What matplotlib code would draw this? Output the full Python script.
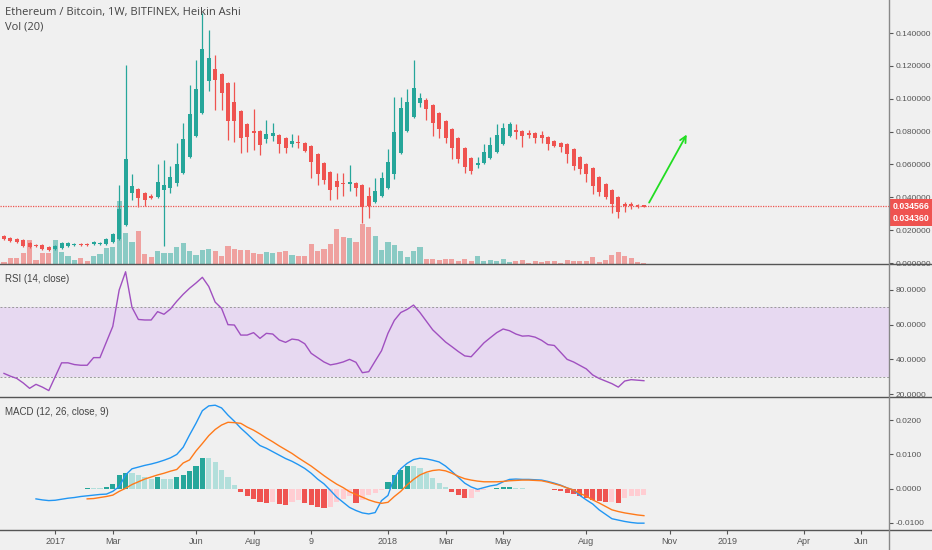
import numpy as np
import matplotlib
matplotlib.use('Agg')
import matplotlib.pyplot as plt
import matplotlib.transforms as mtransforms
from matplotlib.lines import Line2D

plt.rcParams['font.family'] = ['Liberation Sans', 'DejaVu Sans']

# weekly Heikin Ashi candles ETH/BTC, first bar = week of 2016-11-07
start_week = '2016-11-07'

opens = [.0164, .0152, .0146, .0140, .0122, .0110, .0110, .0097, .0085, .0091,
         .0103, .0110, .0116, .0116, .0116, .0116, .0116, .0128, .0146, .0231,
         .0426, .0450, .0426, .0408, .0402, .0444, .0456, .0487, .0548, .0645,
         .0773, .0913, .1108, .1181, .1150, .1095, .0980, .0925, .0846, .0803,
         .0803, .0755, .0773, .0779, .0761, .0724, .0736, .0730, .0712, .0663,
         .0609, .0554, .0499, .0487, .0481, .0487, .0475, .0408, .0371, .0408,
         .0456, .0542, .0669, .0803, .0889, .0974, .0992, .0962, .0913, .0864,
         .0816, .0761, .0700, .0639, .0596, .0609, .0639, .0676, .0724, .0773,
         .0809, .0803, .0791, .0791, .0779, .0767, .0743, .0730, .0724, .0694,
         .0645, .0603, .0578, .0523, .0481, .0444, .0402, .0359, .0359, .0353,
         .0353]
highs = [.0170, .0158, .0152, .0146, .0128, .0116, .0116, .0103, .0110, .0128,
         .0128, .0122, .0122, .0122, .0134, .0128, .0152, .0183, .0475, .1205,
         .0542, .0456, .0432, .0420, .0603, .0627, .0590, .0730, .0852, .1083,
         .1235, .1522, .1418, .1266, .1156, .1102, .1102, .0931, .0852, .0937,
         .0809, .0870, .0852, .0785, .0767, .0785, .0779, .0736, .0718, .0669,
         .0615, .0560, .0548, .0548, .0596, .0493, .0481, .0463, .0517, .0554,
         .0694, .1010, .1010, .1059, .1235, .1035, .1004, .0968, .0919, .0870,
         .0822, .0767, .0706, .0645, .0645, .0724, .0767, .0846, .0852, .0858,
         .0846, .0809, .0809, .0797, .0803, .0773, .0749, .0736, .0730, .0700,
         .0651, .0609, .0584, .0529, .0487, .0450, .0408, .0371, .0371, .0359,
         .0353]
lows = [.0140, .0128, .0122, .0097, .0091, .0097, .0079, .0073, .0079, .0085,
        .0097, .0103, .0103, .0103, .0110, .0110, .0110, .0122, .0140, .0225,
        .0383, .0341, .0347, .0390, .0396, .0103, .0426, .0469, .0542, .0639,
        .0767, .0907, .1047, .0931, .0931, .0749, .0736, .0669, .0676, .0688,
        .0657, .0730, .0743, .0669, .0669, .0706, .0700, .0676, .0517, .0475,
        .0481, .0383, .0390, .0408, .0438, .0408, .0243, .0274, .0365, .0402,
        .0450, .0511, .0663, .0797, .0882, .0949, .0870, .0773, .0761, .0730,
        .0633, .0609, .0548, .0542, .0578, .0603, .0633, .0669, .0718, .0767,
        .0755, .0706, .0761, .0730, .0730, .0688, .0706, .0676, .0609, .0566,
        .0542, .0493, .0420, .0408, .0390, .0304, .0274, .0310, .0329, .0335,
        .0341]
closes = [.0146, .0134, .0128, .0103, .0097, .0103, .0085, .0079, .0103, .0122,
          .0122, .0116, .0110, .0110, .0128, .0122, .0146, .0176, .0329, .0633,
          .0469, .0396, .0383, .0396, .0493, .0475, .0523, .0603, .0755, .0907,
          .1059, .1302, .1248, .1114, .1035, .0864, .0864, .0761, .0767, .0791,
          .0718, .0785, .0791, .0724, .0700, .0743, .0730, .0682, .0615, .0542,
          .0505, .0444, .0463, .0481, .0493, .0456, .0341, .0347, .0438, .0517,
          .0615, .0797, .0943, .0980, .1065, .1004, .0937, .0852, .0816, .0761,
          .0700, .0633, .0584, .0560, .0609, .0676, .0718, .0779, .0822, .0846,
          .0797, .0773, .0779, .0761, .0761, .0724, .0712, .0706, .0663, .0590,
          .0572, .0542, .0469, .0432, .0402, .0359, .0310, .0347, .0347, .0341,
          .0341]
# volume, arbitrary units
volume = [1.7, 5.7, 5.7, 10.7, 24, 4, 10.7, 10.7, 24, 11.7,
          8.3, 4, 6, 3.3, 8.3, 10, 16, 16.7, 63, 30.7,
          21.7, 32.7, 10, 6.7, 12.7, 11, 11, 16.7, 20.7, 13.3,
          9, 14, 15, 13.3, 8.3, 18.3, 15, 14, 14, 11,
          10, 11.7, 10.7, 11.7, 12.7, 9.3, 7.7, 7.7, 20, 13.3,
          15, 20, 35, 27.3, 26, 21.7, 40, 37.3, 27.7, 14.3,
          21.7, 19.3, 12.7, 7.3, 12.7, 17.3, 5, 5, 4, 5,
          5, 3.3, 5, 3.3, 7.7, 3.3, 4, 3.3, 5, 1.7,
          3.3, 4, 1, 3.3, 2.3, 2.7, 2.7, 1, 4.3, 3.3,
          2.7, 3.3, 7.3, 2.3, 4, 9.3, 11.7, 7.7, 5.7, 1.7,
          0.7]

rsi = [31.9, 30.3, 29, 26.4, 23.3, 25.6, 24, 22, 30, 38,
       38, 37, 36.6, 36.6, 41, 41, 50, 59, 80, 90.5,
       70, 63, 62.7, 62.7, 67.5, 66, 69, 73.5, 77.5, 81,
       84, 87.3, 82, 73, 69.4, 60, 59.8, 54, 54, 55.4,
       52.1, 55, 54.6, 51.2, 49.8, 51.7, 51.2, 49, 43.5, 41,
       38.5, 36.8, 37.5, 38.5, 40, 38.3, 32.3, 32.9, 39, 45,
       55, 62.5, 67, 68.8, 71.3, 67, 62, 57, 53.5, 50,
       47.3, 44.5, 42, 41.5, 45.5, 49.5, 52.5, 55.4, 57.5, 56.5,
       54.6, 53.4, 53.6, 52.8, 51, 48.5, 48, 44, 40, 38.5,
       36.5, 34.5, 31, 29, 27.5, 26, 24, 27.5, 28.3, 28,
       27.7]

macd_start = 5
macd = [-.0030, -.0033, -.0035, -.0034, -.0031,
        -.0028, -.0026, -.0023, -.0021, -.0019, -.0017, -.0016, -.0008, .0006, .0040,
        .0058, .0063, .0068, .0072, .0077, .0083, .0090, .0100, .0121, .0157,
        .0191, .0228, .0242, .0244, .0236, .0215, .0197, .0177, .0160, .0142,
        .0126, .0118, .0108, .0098, .0088, .0080, .0070, .0059, .0045, .0028,
        .0014, -.0005, -.0025, -.0040, -.0055, -.0064, -.0071, -.0074, -.0070, -.0035,
        -.0020, .0033, .0058, .0074, .0085, .0089, .0087, .0083, .0078, .0066,
        .0050, .0033, .0016, .0005, -.0002, .0003, .0008, .0011, .0020, .0027,
        .0028, .0027, .0027, .0026, .0025, .0021, .0016, .0010, .0002, -.0004,
        -.0020, -.0033, -.0045, -.0062, -.0075, -.0088, -.0092, -.0096, -.0099, -.0101,
        -.0101]

signal_start = 13
signal = [-.0030, -.0029, -.0026, -.0023, -.0019, -.0008, .0001,
          .0012, .0020, .0028, .0034, .0040, .0045, .0051, .0056, .0075, .0084,
          .0110, .0132, .0155, .0173, .0186, .0194, .0193, .0191, .0180, .0171,
          .0160, .0148, .0137, .0125, .0114, .0103, .0090, .0078, .0066, .0052,
          .0038, .0025, .0013, .0003, -.0009, -.0017, -.0025, -.0033, -.0039, -.0043,
          -.0040, -.0023, -.0008, .0011, .0027, .0040, .0048, .0053, .0055, .0052,
          .0045, .0036, .0029, .0025, .0022, .0020, .0020, .0020, .0021, .0023,
          .0024, .0025, .0025, .0024, .0023, .0019, .0014, .0009, .0002, -.0004,
          -.0014, -.0022, -.0033, -.0042, -.0052, -.0062, -.0067, -.0071, -.0074, -.0077,
          -.0079]

hist = [.0003, .0003, .0003, .0004, .0015, .0040, .0047,
        .0047, .0040, .0033, .0027, .0033, .0027, .0027, .0033, .0040, .0053,
        .0066, .0089, .0089, .0079, .0055, .0033, .0011, -.0009, -.0021, -.0031,
        -.0038, -.0043, -.0040, -.0045, -.0048, -.0038, -.0033, -.0043, -.0048, -.0053,
        -.0057, -.0053, -.0038, -.0030, -.0023, -.0043, -.0033, -.0020, -.0012, -.0005,
        .0018, .0040, .0055, .0066, .0066, .0059, .0045, .0030, .0016, .0005,
        -.0009, -.0018, -.0028, -.0028, -.0009, -.0004, -.0002, .0001, .0004, .0006,
        .0003, .0001, .0000, .0000, -.0001, -.0002, -.0004, -.0007, -.0012, -.0016,
        -.0021, -.0028, -.0033, -.0036, -.0038, -.0038, -.0041, -.0028, -.0023, -.0021,
        -.0018]

tick_dates = ['2017-01-02', '2017-03-06', '2017-06-05', '2017-08-07', '2017-10-09',
              '2018-01-01', '2018-03-05', '2018-05-07', '2018-08-06', '2018-11-05',
              '2019-01-07', '2019-04-01', '2019-06-03']
tick_labels = ['2017', 'Mar', 'Jun', 'Aug', '9', '2018', 'Mar', 'May', 'Aug',
               'Nov', '2019', 'Apr', 'Jun']

price_ticks = [0.0, 0.02, 0.04, 0.06, 0.08, 0.10, 0.12, 0.14]
rsi_ticks = [20, 40, 60, 80]
macd_ticks = [-0.01, 0.0, 0.01, 0.02]

last_price = 0.034566
last_close = 0.034360
arrow_from = (100.6, 0.0353)
arrow_to = (106.9, 0.0797)

bg = '#f0f0f0'
up = '#26a69a'
down = '#ef5350'
axis_col = '#555555'
W, H = 932, 550
plot_right = 889

o = np.array(opens)
h = np.array(highs)
l = np.array(lows)
c = np.array(closes)
x = np.arange(len(o))
is_up = c >= o
colors = np.where(is_up, up, down)

fig = plt.figure(figsize=(W / 100, H / 100), dpi=100)
fig.patch.set_facecolor(bg)
ax_p = fig.add_axes([0, 286 / H, plot_right / W, 264 / H])
ax_r = fig.add_axes([0, 153 / H, plot_right / W, 132 / H], sharex=ax_p)
ax_m = fig.add_axes([0, 20 / H, plot_right / W, 133 / H], sharex=ax_p)
ax_v = ax_p.twinx()

for ax in (ax_p, ax_r, ax_m):
    ax.set_facecolor(bg)
    for s in ax.spines.values():
        s.set_visible(False)
    ax.yaxis.tick_right()
    ax.tick_params(axis='y', labelsize=6, colors='#555555', length=3, pad=2)
ax_p.tick_params(axis='x', bottom=False, labelbottom=False)
ax_r.tick_params(axis='x', bottom=False, labelbottom=False)

# panel separators and the price scale border
for ypix in (264, 397, 530):
    fig.add_artist(Line2D([0, 1], [1 - ypix / H, 1 - ypix / H], color=axis_col, lw=1))
fig.add_artist(Line2D([plot_right / W, plot_right / W], [0, 1], color='#888888', lw=1))

# volume behind the candles
ax_v.set_zorder(ax_p.get_zorder() - 1)
ax_p.patch.set_visible(False)
ax_v.patch.set_facecolor(bg)
ax_v.bar(x, volume, width=0.8, color=colors, alpha=0.5, linewidth=0)
ax_v.set_ylim(0, max(volume) * 264 / 63)
ax_v.set_yticks([])
for s in ax_v.spines.values():
    s.set_visible(False)

# candles
ax_p.vlines(x, l, h, colors=colors, linewidth=0.9, zorder=2)
body_low = np.minimum(o, c)
body_h = np.maximum(np.abs(c - o), 0.0005)
ax_p.bar(x, body_h, bottom=body_low, width=0.62, color=colors, linewidth=0, zorder=3)

ax_p.axhline(last_price, color=down, linewidth=0.9, linestyle=(0, (1, 1)), zorder=1)
ax_p.annotate('', xy=arrow_to, xytext=arrow_from,
              arrowprops=dict(arrowstyle='->', color='#22dd22', lw=1.3, mutation_scale=11))

ax_p.set_ylim(-0.0006, 0.1601)
ax_p.set_yticks(price_ticks)
ax_p.set_yticklabels(['%.6f' % v for v in price_ticks])

trans = mtransforms.blended_transform_factory(ax_p.transAxes, ax_p.transData)
label_box = dict(boxstyle='square,pad=0.35', fc=down, ec='none')
ax_p.annotate('%.6f' % last_price, xy=(1.0, last_price), xycoords=trans,
              xytext=(2.5, 0), textcoords='offset points', ha='left', va='center',
              fontsize=6.3, color='white', fontweight='bold', bbox=label_box,
              annotation_clip=False, zorder=5)
ax_p.annotate('%.6f' % last_close, xy=(1.0, last_price), xycoords=trans,
              xytext=(2.5, -8.6), textcoords='offset points', ha='left', va='center',
              fontsize=6.3, color='white', fontweight='bold', bbox=label_box,
              annotation_clip=False, zorder=5)

# RSI
ax_r.axhspan(30, 70, color='#9915ff', alpha=0.1, linewidth=0)
ax_r.axhline(70, color='#9a9a9a', linewidth=0.7, linestyle=(0, (2, 2)))
ax_r.axhline(30, color='#9a9a9a', linewidth=0.7, linestyle=(0, (2, 2)))
ax_r.plot(x, rsi, color='#a050c0', linewidth=1)
ax_r.set_ylim(18.3, 94.4)
ax_r.set_yticks(rsi_ticks)
ax_r.set_yticklabels(['%.4f' % v for v in rsi_ticks])

# MACD
x_macd = np.arange(macd_start, macd_start + len(macd))
x_sig = np.arange(signal_start, signal_start + len(signal))
hv = np.array(hist)
hcol = []
prev = hv[0] - 1
for v in hv:
    if v >= 0:
        hcol.append('#26a69a' if v > prev else '#b2dfdb')
    else:
        hcol.append('#ef5350' if v < prev else '#ffcdd2')
    prev = v
ax_m.bar(x_sig, hv, width=0.8, color=hcol, linewidth=0)
ax_m.plot(x_macd, macd, color='#2196f3', linewidth=1)
ax_m.plot(x_sig, signal, color='#ff7a1a', linewidth=1)
ax_m.set_ylim(-0.0121, 0.0268)
ax_m.set_yticks(macd_ticks)
ax_m.set_yticklabels(['%.4f' % v for v in macd_ticks])

week0 = np.datetime64(start_week)
tick_idx = (np.array(tick_dates, dtype='datetime64[D]') - week0).astype(int) / 7
ax_m.set_xticks(tick_idx)
ax_m.set_xticklabels(tick_labels)
ax_m.tick_params(axis='x', labelsize=6.5, colors='#555555', length=3, pad=2)
ax_m.set_xlim(-0.625, 138.3)

fig.text(5 / W, 1 - 13 / H, 'Ethereum / Bitcoin, 1W, BITFINEX, Heikin Ashi',
         fontsize=8, color='#444444', va='center', family=['Open Sans', 'DejaVu Sans'])
fig.text(5 / W, 1 - 27 / H, 'Vol (20)', fontsize=8, color='#444444', va='center',
         family=['Open Sans', 'DejaVu Sans'])
fig.text(5 / W, 1 - 279 / H, 'RSI (14, close)', fontsize=7, color='#444444', va='center')
fig.text(5 / W, 1 - 412 / H, 'MACD (12, 26, close, 9)', fontsize=7, color='#444444',
         va='center')

plt.savefig('out.png', dpi=100, facecolor=bg)
